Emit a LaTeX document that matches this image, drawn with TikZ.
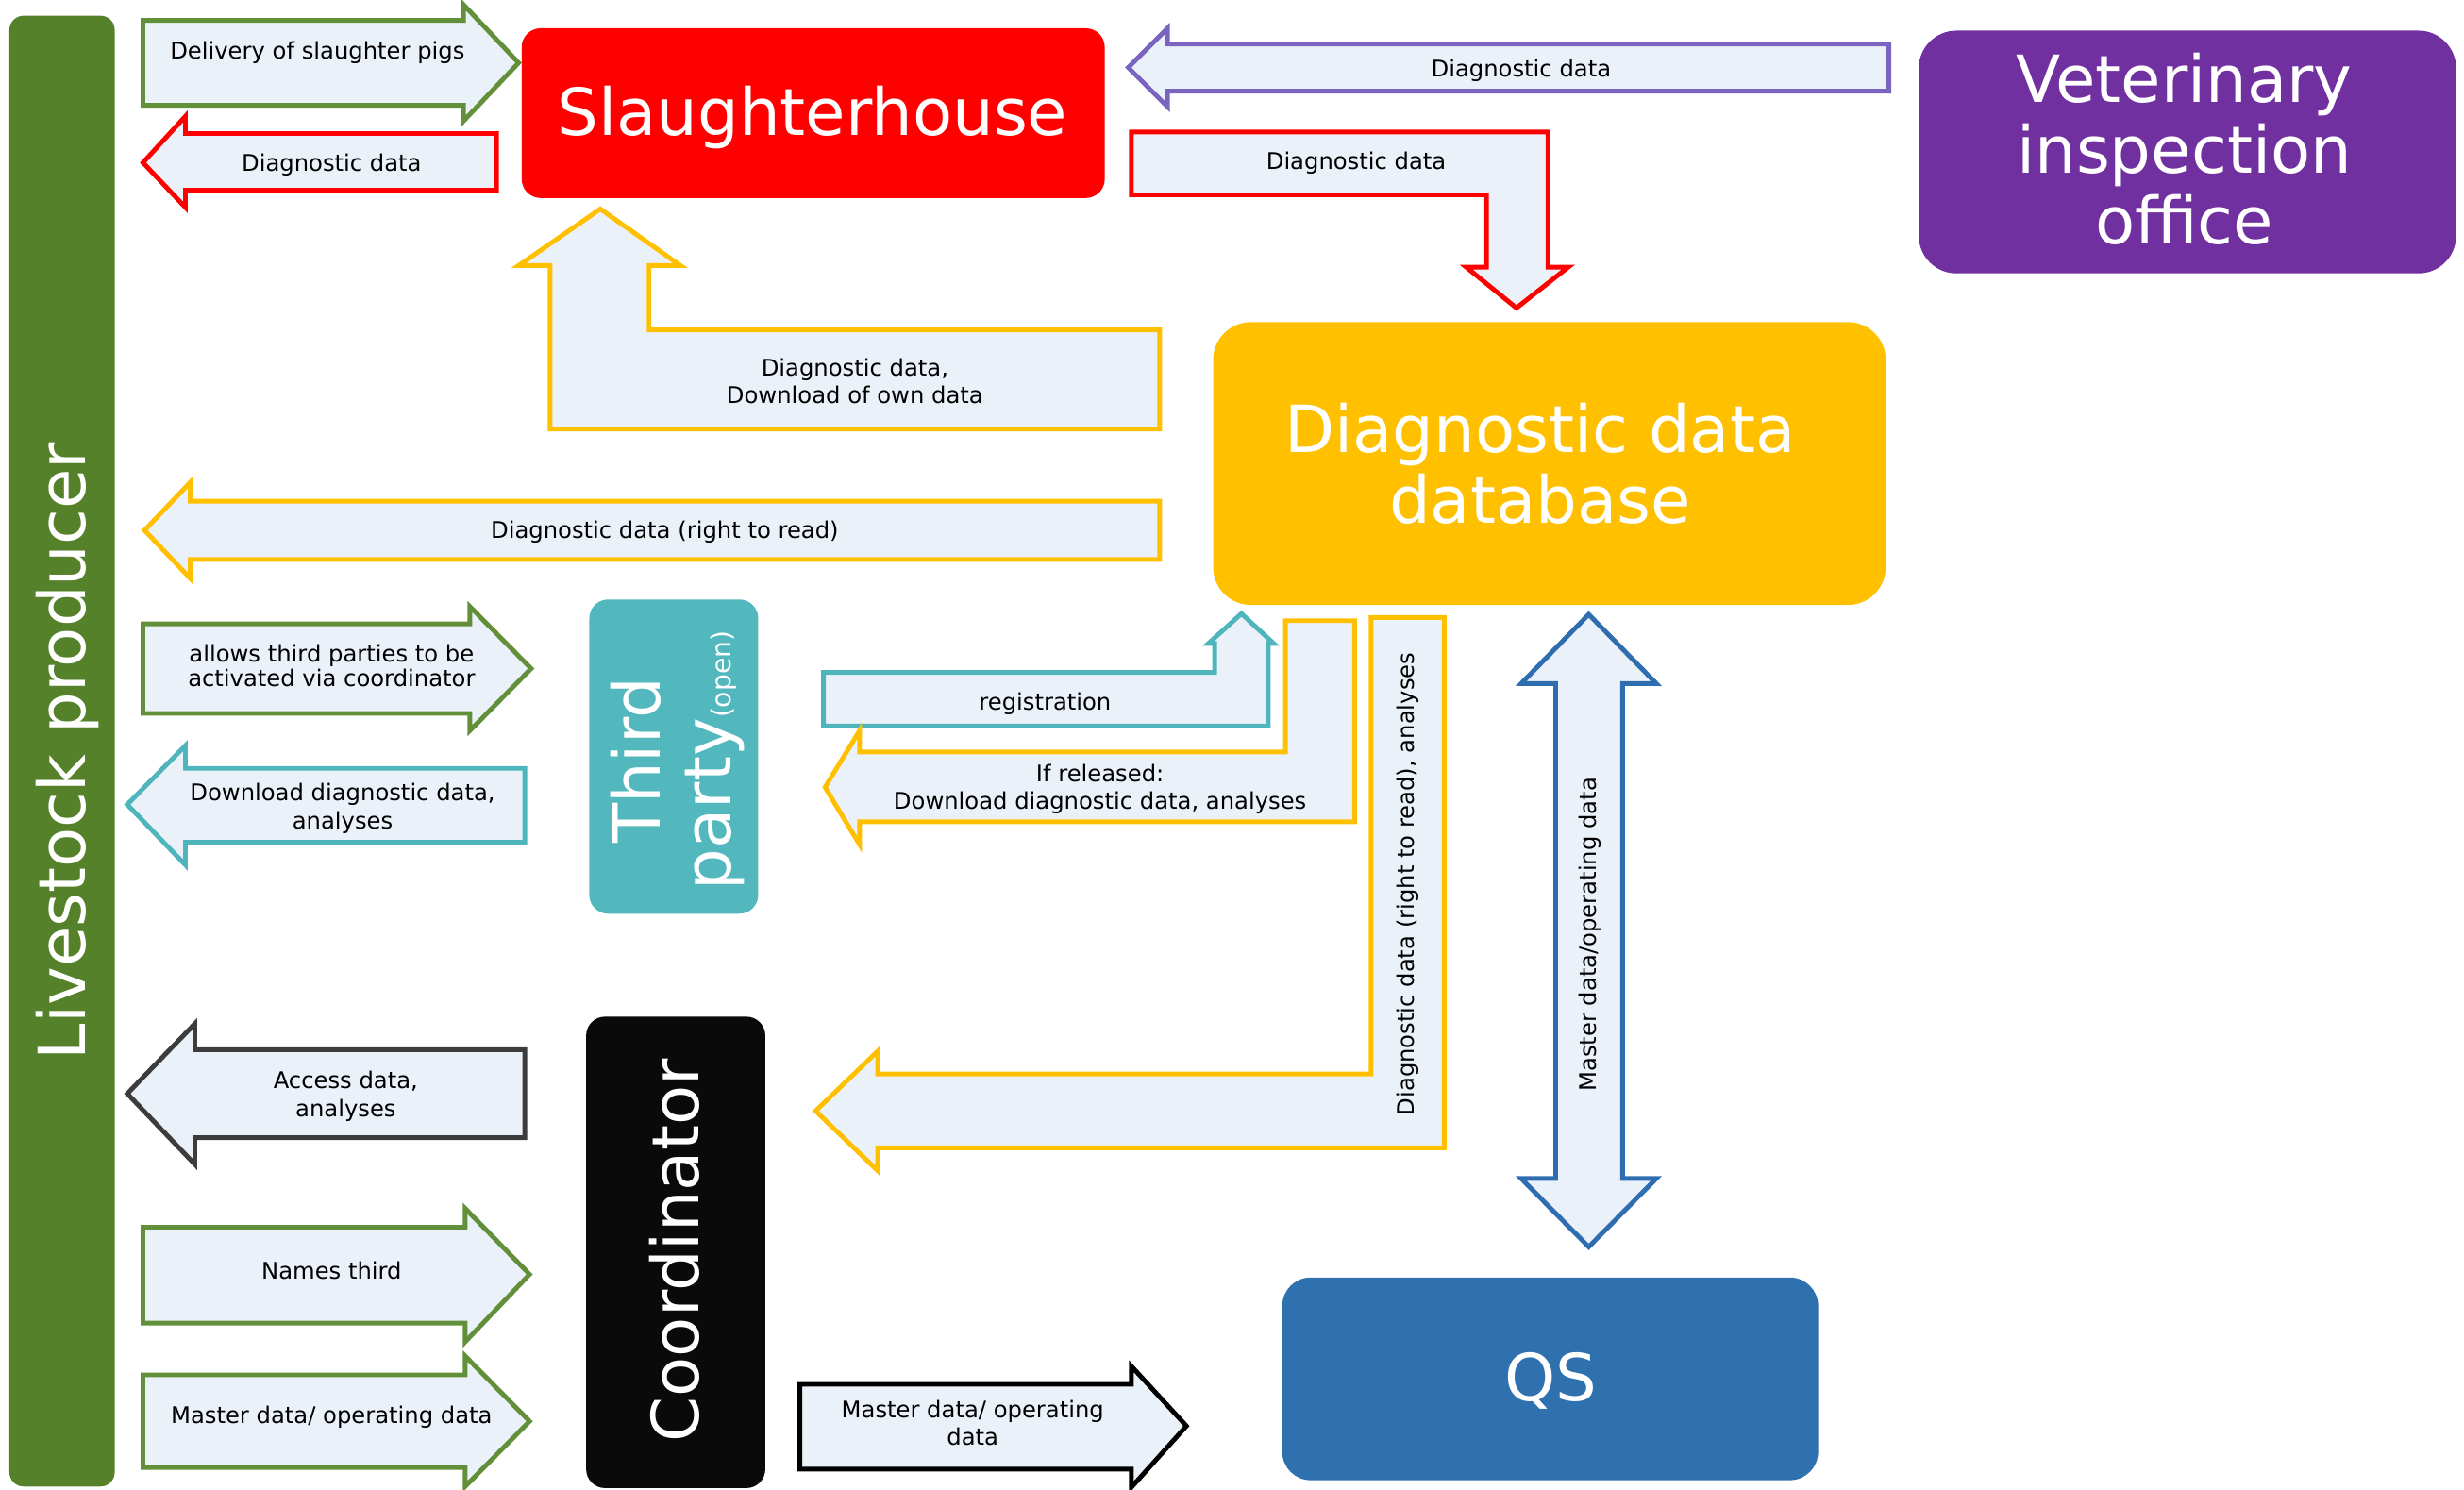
\documentclass[tikz,border=0pt]{standalone}
\usepackage{fontspec}
\setmainfont{DejaVu Sans}
\definecolor{afill}{HTML}{EBF1F9}
\definecolor{lgreen}{HTML}{55812A}
\definecolor{agreen}{HTML}{62903A}
\definecolor{vpurple}{HTML}{7030A0}
\definecolor{apurple}{HTML}{7B64C0}
\definecolor{gold}{HTML}{FFC000}
\definecolor{tpteal}{HTML}{53B8BD}
\definecolor{ateal}{HTML}{4FB5BD}
\definecolor{qsblue}{HTML}{2E71AE}
\definecolor{ablue}{HTML}{2E6EB0}
\definecolor{coal}{HTML}{0A0A0A}
\definecolor{agrey}{HTML}{3C3C3C}

\begin{document}
\begin{tikzpicture}[x=0.016652cm, y=-0.016652cm,
    lbl/.style={font=\fontsize{6.9}{8.4}\selectfont, align=center, inner sep=0pt, yshift=-0.8pt},
    big/.style={font=\fontsize{19.6}{21.3}\selectfont, text=white, align=center, inner sep=0pt},
    blk/.style={fill=afill, line width=1.4pt}]
        \useasboundingbox (0,0) rectangle (1568,948);
        \fill[lgreen, rounded corners=1.5mm] (6,10) rectangle (73,946);
        \node[big, rotate=90] (prod) at (43,478) {Livestock producer};
        \fill[red, rounded corners=2mm] (332,18) rectangle (703,126);
        \node[big] (slh) at (517,75) {Slaughterhouse};
        \fill[vpurple, rounded corners=4mm] (1221,19.5) rectangle (1563,174);
        \node[big] (vet) at (1390,95) {Veterinary\\inspection\\office};
        \fill[gold, rounded corners=4mm] (772,205) rectangle (1200,385);
        \node[big] (db) at (980,295) {Diagnostic data\\database};
        \fill[tpteal, rounded corners=2mm] (375,381.5) rectangle (482.5,581.5);
        \node[big, rotate=90] (tp) at (431,484) {Third\\party{\fontsize{8}{9}\selectfont(open)}};
        \fill[coal, rounded corners=2mm] (373,647) rectangle (487,947);
        \node[big, rotate=90] (coord) at (429,796) {Coordinator};
        \fill[qsblue, rounded corners=3mm] (816,813) rectangle (1157,942);
        \node[big] (qs) at (987,879) {QS};

        \draw[blk, draw=agreen] (91,13) -- (295,13) -- (295,3) -- (330,40) -- (295,77) -- (295,67) -- (91,67) -- cycle;
        \node[lbl] (delivery) at (202,32) {Delivery of slaughter pigs};
        \draw[blk, draw=red] (316,85) -- (118,85) -- (118,74) -- (91,103.5) -- (118,132) -- (118,121) -- (316,121) -- cycle;
        \node[lbl] (slhout) at (211,103) {Diagnostic data};
        \draw[blk, draw=apurple] (1202,28) -- (743,28) -- (743,18) -- (718,43) -- (743,68) -- (743,58) -- (1202,58) -- cycle;
        \node[lbl] (vetout) at (968,43) {Diagnostic data};
        \draw[blk, draw=red] (720,84) -- (985,84) -- (985,170) -- (998,170) -- (965,196) -- (933,170) -- (946,170) -- (946,124) -- (720,124) -- cycle;
        \node[lbl] (slhdb) at (863,102) {Diagnostic data};
        \draw[blk, draw=gold] (738,210) -- (738,273) -- (350,273) -- (350,169) -- (330,169) -- (382,133) -- (433,169) -- (413,169) -- (413,210) -- cycle;
        \node[lbl] (dbslh) at (544,241) {Diagnostic data,\\Download of own data};
        \draw[blk, draw=gold] (738,319) -- (121,319) -- (121,307) -- (92,337.5) -- (121,368) -- (121,356) -- (738,356) -- cycle;
        \node[lbl] (dbprod) at (423,337) {Diagnostic data (right to read)};
        \draw[blk, draw=agreen] (91,397) -- (299,397) -- (299,386) -- (338,425.5) -- (299,465) -- (299,454) -- (91,454) -- cycle;
        \node[lbl, font=\fontsize{6.9}{7.4}\selectfont] (allows) at (211,422) {allows third parties to be\\activated via coordinator};
        \draw[blk, draw=ateal] (334,489) -- (118,489) -- (118,474.5) -- (81,512) -- (118,550.5) -- (118,536) -- (334,536) -- cycle;
        \node[lbl] (tpprod) at (218,513) {Download diagnostic data,\\analyses};
        \draw[blk, draw=ateal] (524,428) -- (773,428) -- (773,409.5) -- (769,409.5) -- (790,390.5) -- (810.5,409.5) -- (807,409.5) -- (807,462) -- (524,462) -- cycle;
        \node[lbl] (reg) at (665,446) {registration};
        \draw[blk, draw=gold] (818,395) -- (862,395) -- (862,523) -- (547,523) -- (547,537.5) -- (525,501) -- (547,465) -- (547,478.5) -- (818,478.5) -- cycle;
        \node[lbl] (released) at (700,500.5) {If released:\\Download diagnostic data, analyses};
        \draw[blk, draw=gold] (872.5,393) -- (919,393) -- (919,730.5) -- (558.5,730.5) -- (558.5,745) -- (519,707) -- (558.5,669) -- (558.5,683.5) -- (872.5,683.5) -- cycle;
        \node[lbl, rotate=90] (dbcoord) at (896,561) {Diagnostic data (right to read), analyses};
        \draw[blk, draw=ablue] (1011,391) -- (1054,435) -- (1032.5,435) -- (1032.5,750) -- (1054,750) -- (1011,793.5) -- (968,750) -- (990,750) -- (990,435) -- (968,435) -- cycle;
        \node[lbl, rotate=90] (dbqs) at (1012,593) {Master data/operating data};
        \draw[blk, draw=agrey] (334,668) -- (124,668) -- (124,651.5) -- (81,696) -- (124,741) -- (124,724) -- (334,724) -- cycle;
        \node[lbl] (access) at (220,696) {Access data,\\analyses};
        \draw[blk, draw=agreen] (91,781) -- (296,781) -- (296,769) -- (337,811) -- (296,854) -- (296,842) -- (91,842) -- cycle;
        \node[lbl] (names) at (211,807) {Names third};
        \draw[blk, draw=agreen] (91,875) -- (296,875) -- (296,863) -- (337,904.5) -- (296,946) -- (296,934) -- (91,934) -- cycle;
        \node[lbl] (master) at (211,900) {Master data/ operating data};
        \draw[blk, draw=black] (509,881) -- (720,881) -- (720,869.5) -- (755,907.5) -- (720,946.5) -- (720,935) -- (509,935) -- cycle;
        \node[lbl] (coordqs) at (619,904) {Master data/ operating\\data};
      \end{tikzpicture}
\end{document}
